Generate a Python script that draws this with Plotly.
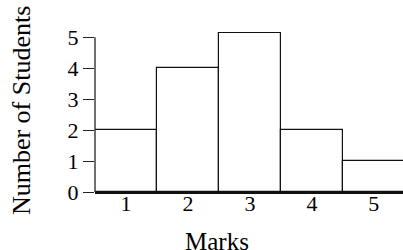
import plotly.graph_objects as go

marks = [1, 2, 3, 4, 5]
students = [2, 4, 5.13, 2, 1]
y_ticks = [0, 1, 2, 3, 4, 5]
x_title = "Marks"
y_title = "Number of Students"

FONT = "Liberation Serif"

fig = go.Figure(
    go.Bar(
        x=marks,
        y=students,
        marker=dict(color="white", line=dict(color="#111111", width=1.2)),
        width=1.0,
    )
)

fig.update_layout(
    width=403,
    height=250,
    margin=dict(l=95, r=0, t=32, b=58),
    paper_bgcolor="white",
    plot_bgcolor="white",
    bargap=0,
    showlegend=False,
    font=dict(family=FONT, color="black"),
    xaxis=dict(
        range=[0.5, 5.47],
        tickvals=marks,
        ticktext=[str(m) for m in marks],
        ticks="",
        ticklabelstandoff=-9,
        showgrid=False,
        zeroline=False,
        showline=True,
        linecolor="#111111",
        linewidth=2,
        tickfont=dict(size=22, family=FONT, color="black"),
        automargin=False,
        fixedrange=True,
    ),
    yaxis=dict(
        range=[0, 5.17],
        tickvals=y_ticks,
        ticktext=[str(v) for v in y_ticks],
        ticks="outside",
        ticklen=11,
        tickwidth=1.3,
        tickcolor="#222222",
        showgrid=False,
        zeroline=False,
        showline=False,
        tickfont=dict(size=22, family=FONT, color="black"),
        automargin=False,
        fixedrange=True,
    ),
    shapes=[
        dict(type="line", xref="paper", yref="y", x0=0, x1=0,
             y0=y_ticks[0], y1=y_ticks[-1],
             line=dict(color="#222222", width=1.3)),
    ],
    annotations=[
        dict(
            text=x_title, xref="paper", yref="paper",
            x=0.396, y=-0.215, xanchor="center", yanchor="top",
            showarrow=False, font=dict(size=25, family=FONT, color="black"),
        ),
        dict(
            text=y_title, xref="paper", yref="paper",
            x=-0.238, y=0.51, xanchor="center", yanchor="middle",
            textangle=-90,
            showarrow=False, font=dict(size=26, family=FONT, color="black"),
        ),
    ],
)

fig.write_html(
    "out.html",
    config={"displayModeBar": False},
    post_script="document.body.style.margin='0';document.body.style.overflow='hidden';",
)
